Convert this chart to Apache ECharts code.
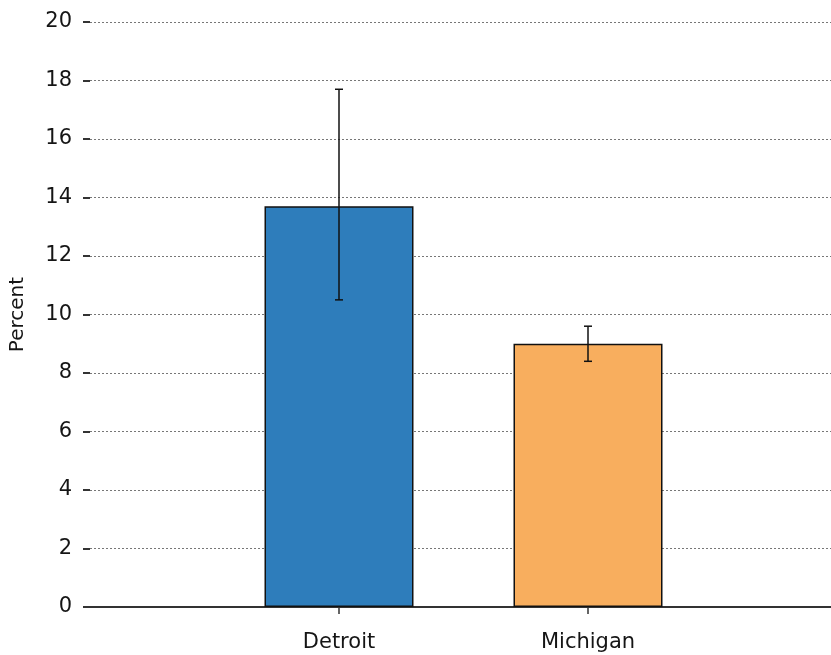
<!DOCTYPE html>
<html>
<head>
<meta charset="utf-8">
<script src="https://cdn.jsdelivr.net/npm/echarts@6/dist/echarts.min.js"></script>
<style>html,body{margin:0;padding:0;background:#fff;overflow:hidden;width:831px;height:655px}#c{width:840px;height:655px}</style>
</head>
<body>
<div id="c"></div>
<script>
const categories = ['Detroit', 'Michigan'];
const values = [13.7, 9.0];
const errLow = [10.5, 8.4];
const errHigh = [17.7, 9.6];
const colors = ['#2E7DBB', '#F8AE5E'];
const yTicks = [0, 2, 4, 6, 8, 10, 12, 14, 16, 18, 20];

// padded category axis: one empty slot on each side
const axisCats = [''].concat(categories, ['']);
const barData = ['-'].concat(values.map((v, i) => ({
  value: v,
  itemStyle: { color: colors[i] }
})), ['-']);
const errData = categories.map((c, i) => [i + 1, errLow[i], errHigh[i]]);

const font = '"DejaVu Sans", Verdana, sans-serif';
const chart = echarts.init(document.getElementById('c'));
chart.setOption({
  animation: false,
  grid: { left: 90, right: 0, top: 22, bottom: 48, containLabel: false },
  xAxis: {
    type: 'category',
    data: axisCats,
    boundaryGap: false,
    axisLine: { show: true, lineStyle: { color: '#333', width: 2 } },
    axisTick: { show: true, length: 7, interval: (i) => i === 1 || i === 2, lineStyle: { color: '#333', width: 1.5 } },
    axisLabel: { interval: 0, margin: 25, fontFamily: font, fontSize: 21, color: '#151515' },
    splitLine: { show: false }
  },
  yAxis: {
    type: 'value',
    min: yTicks[0],
    max: yTicks[yTicks.length - 1],
    interval: 2,
    name: 'Percent',
    nameLocation: 'middle',
    nameGap: 62,
    nameTextStyle: { fontFamily: font, fontSize: 20, color: '#151515' },
    axisLine: { show: false },
    axisTick: { show: true, length: 7, lineStyle: { color: '#333', width: 2 } },
    axisLabel: { margin: 18, fontFamily: font, fontSize: 21, color: '#151515' },
    splitLine: { show: true, lineStyle: { color: '#777', type: [2, 2], width: 1 } }
  },
  series: [
    {
      type: 'bar',
      data: barData,
      barWidth: 149,
      itemStyle: { borderColor: '#111', borderWidth: 1.5 },
      z: 2
    },
    {
      type: 'custom',
      data: errData,
      z: 5,
      renderItem: function (params, api) {
        const x = api.value(0);
        const lo = api.coord([x, api.value(1)]);
        const hi = api.coord([x, api.value(2)]);
        const cap = 4;
        const style = { stroke: '#111', lineWidth: 1.5 };
        return {
          type: 'group',
          children: [
            { type: 'line', shape: { x1: lo[0], y1: lo[1], x2: hi[0], y2: hi[1] }, style },
            { type: 'line', shape: { x1: lo[0] - cap, y1: lo[1], x2: lo[0] + cap, y2: lo[1] }, style },
            { type: 'line', shape: { x1: hi[0] - cap, y1: hi[1], x2: hi[0] + cap, y2: hi[1] }, style }
          ]
        };
      }
    }
  ]
});
</script>
</body>
</html>
